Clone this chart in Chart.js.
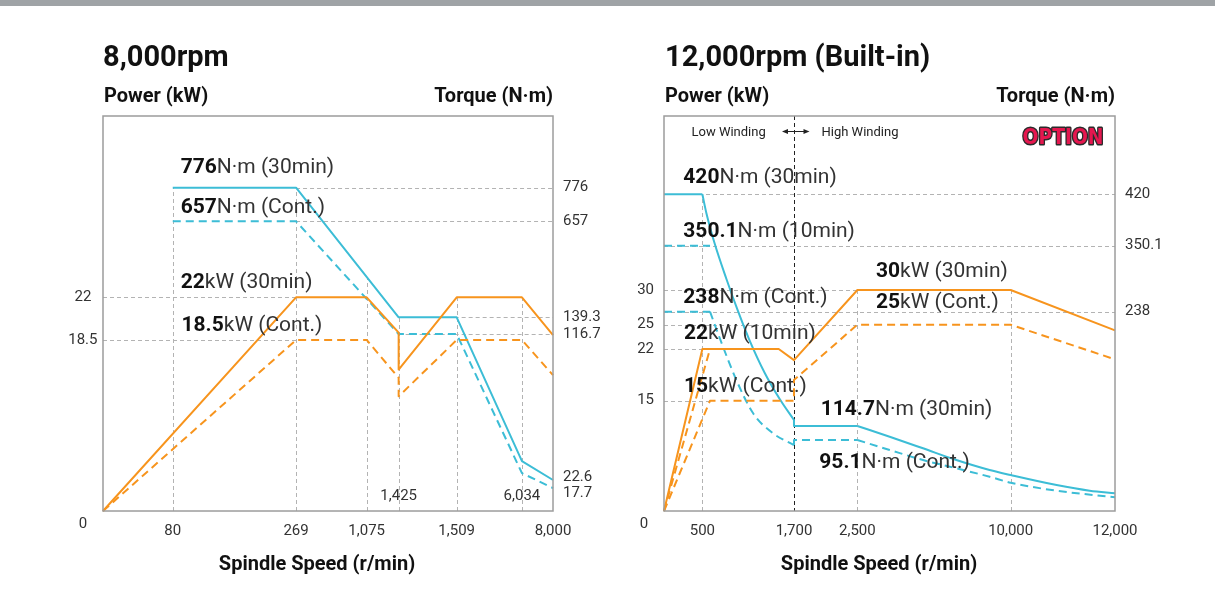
<!DOCTYPE html>
<html>
<head>
<meta charset="utf-8">
<title>Spindle Power / Torque</title>
<script src="https://cdn.jsdelivr.net/npm/chart.js@4.4.1/dist/chart.umd.min.js"></script>
<style>
  html, body { margin: 0; padding: 0; background: #fff; }
  body { width: 1215px; height: 607px; position: relative; overflow: hidden; }
  #topbar { position: absolute; left: 0; top: 0; width: 1215px; height: 6px; background: #9fa3a6; z-index: 2; }
  canvas { position: absolute; top: 0; }
  #c8k { left: 0; }
  #c12k { left: 607px; }
</style>
</head>
<body>
<div id="topbar"></div>
<canvas id="c8k" width="607" height="607"></canvas>
<canvas id="c12k" width="608" height="607"></canvas>
<script>
// ---- 8,000rpm data (speed r/min, power kW, torque N·m) ----
const speedTicks8k = [80, 269, 1075, 1509, 8000];
const speedInnerTicks8k = [1425, 6034];
const powerTicks8k = [18.5, 22];
const torqueTicks8k = [116.7, 139.3, 657, 776];
const torqueEndTicks8k = [22.6, 17.7];

const torque30min8k = [[80, 776], [269, 776], [1425, 139.3], [1509, 139.3], [6034, 34.8], [8000, 22.6]];
const torqueCont8k = [[80, 657], [269, 657], [1425, 116.7], [1509, 116.7], [6034, 27], [8000, 17.7]];
const power30min8k = [[0, 0], [269, 22], [1075, 22], [1425, 19.1], [1425, 15.3], [1509, 22], [6034, 22], [8000, 18.9]];
const powerCont8k = [[0, 0], [269, 18.5], [1075, 18.5], [1425, 14.4], [1425, 12.4], [1509, 18.5], [6034, 18.5], [8000, 14.7]];

// ---- 12,000rpm (Built-in) data ----
const speedTicks12k = [500, 1700, 2500, 10000, 12000];
const powerTicks12k = [15, 22, 25, 30];
const torqueTicks12k = [238, 350.1, 420];
const windingChange = 1700;

const torque30minLowFlat = [[0, 420], [500, 420]];
const torque30minLowCurve = [[500, 420], [552, 394.6], [661, 353], [815, 293.6], [967, 238.8], [1111, 208.5], [1317, 171.9], [1513, 143.8], [1700, 121.2]];
const torque30minStep = [[1700, 121.2], [1700, 114.7], [2500, 114.7]];
const torque30minHighCurve = [[2500, 114.7], [4080, 99.7], [5710, 84], [7340, 68.3], [8970, 54.9], [10000, 48.2], [10880, 34.8], [11515, 27.2], [12000, 23.7]];
const torque10min = [[0, 350.1], [600, 350.1]];
const torqueContLowFlat = [[0, 238], [600, 238]];
const torqueContLowCurve = [[600, 238], [770, 200.2], [945, 164.3], [1165, 128.4], [1425, 104.5], [1700, 88.4]];
const torqueContStep = [[1700, 88.4], [1700, 95.1], [2500, 95.1]];
const torqueContHighCurve = [[2500, 95.1], [4080, 81.7], [5710, 68.3], [7340, 57.2], [8970, 45.9], [10000, 37.9], [10880, 27.2], [12000, 18.4]];
const power30min12k = [[0, 0], [500, 22], [1500, 22], [1700, 20.5], [2500, 30], [10000, 30], [12000, 24.3]];
const power10min12k = [[0, 0], [600, 22]];
const powerCont12k = [[0, 0], [600, 15], [1700, 15], [1700, 17.8], [2500, 25], [10000, 25], [12000, 20.6]];

// axes of the sheet are not linear: value -> fraction of the plot
const axisKnots = {
    speed8k: [[0, 0], [80, 0.155], [269, 0.429], [1075, 0.586], [1425, 0.657], [1509, 0.786], [6034, 0.931], [8000, 1]],
    power8k: [[0, 0], [18.5, 0.433], [22, 0.541], [37, 1]],
    torque8k: [[0, 0], [17.7, 0.058], [22.6, 0.0785], [116.7, 0.448], [139.3, 0.4904], [657, 0.7334], [776, 0.8185], [1030, 1]],
    speed12k: [[0, 0], [500, 0.0851], [1700, 0.2882], [2500, 0.4288], [10000, 0.7687], [12000, 1]],
    power12k: [[0, 0], [15, 0.2792], [22, 0.4101], [25, 0.4716], [30, 0.5595], [55, 1]],
    torque12k: [[0, 0], [95.1, 0.1797], [114.7, 0.2152], [238, 0.5046], [350.1, 0.6716], [420, 0.8018], [527, 1]]
};

const CYAN = '#3cbdd6';
const ORANGE = '#f7941d';
const GRID = '#b3b3b3';
const FONT = 'Roboto';

class PiecewiseScale extends Chart.LinearScale {
    static id = 'piecewise';
    static defaults = Chart.LinearScale.defaults;

    knots() { return axisKnots[this.options.knotKey]; }

    getPixelForValue(value) {
        if (value === null || value === undefined || isNaN(value)) return NaN;
        const k = this.knots();
        let f = k[k.length - 1][1];
        if (value <= k[0][0]) {
            f = k[0][1];
        } else {
            for (let i = 1; i < k.length; i++) {
                if (value <= k[i][0]) {
                    const [v0, f0] = k[i - 1], [v1, f1] = k[i];
                    f = f0 + (value - v0) / (v1 - v0) * (f1 - f0);
                    break;
                }
            }
        }
        return this.getPixelForDecimal(f);
    }

    getValueForPixel(pixel) {
        const d = this.getDecimalForPixel(pixel);
        const k = this.knots();
        for (let i = 1; i < k.length; i++) {
            if (d <= k[i][1]) {
                const [v0, f0] = k[i - 1], [v1, f1] = k[i];
                return v0 + (d - f0) / (f1 - f0) * (v1 - v0);
            }
        }
        return k[k.length - 1][0];
    }
}
Chart.register(PiecewiseScale);

const fmt = v => v.toLocaleString('en-US');

function axis(key, pos, ticks, size, pad, crossAlign) {
    const k = axisKnots[key];
    return {
        type: 'piecewise',
        knotKey: key,
        position: pos,
        min: 0,
        max: k[k.length - 1][0],
        grid: { display: false, drawTicks: false },
        border: { display: false },
        ticks: {
            autoSkip: false, maxRotation: 0, padding: pad, crossAlign: crossAlign || 'near',
            color: '#333', font: { family: FONT, size: 15 },
            callback: v => fmt(v)
        },
        afterBuildTicks: s => { s.ticks = ticks.map(v => ({ value: v })); },
        afterFit: s => { if (pos === 'bottom') s.height = size; else s.width = size; }
    };
}

function line(points, color, yAxis, dashed, curved) {
    return {
        data: points.map(([x, y]) => ({ x, y })),
        yAxisID: yAxis,
        borderColor: color,
        borderWidth: 2,
        borderDash: dashed ? [8, 5] : [],
        borderJoinStyle: 'round',
        pointRadius: 0,
        fill: false,
        clip: false,
        tension: 0,
        cubicInterpolationMode: curved ? 'monotone' : 'default'
    };
}

function rich(ctx, x, y, bold, rest) {
    ctx.textAlign = 'left';
    ctx.textBaseline = 'alphabetic';
    ctx.font = `bold 21px ${FONT}`;
    ctx.fillStyle = '#111';
    ctx.fillText(bold, x, y);
    const w = ctx.measureText(bold).width;
    ctx.font = `21px ${FONT}`;
    ctx.fillStyle = '#333';
    ctx.fillText(rest, x + w, y);
}

function label(ctx, str, x, y, font, color, align, baseline) {
    ctx.font = font;
    ctx.fillStyle = color;
    ctx.textAlign = align || 'left';
    ctx.textBaseline = baseline || 'alphabetic';
    ctx.fillText(str, x, y);
}

function sheet(spec) {
    const ox = spec.offsetX;
    return {
        id: 'sheet',
        beforeDatasetsDraw(chart) {
            const { ctx, chartArea: a, scales } = chart;
            const sx = scales.x;
            ctx.save();
            ctx.strokeStyle = GRID;
            ctx.lineWidth = 1;
            ctx.setLineDash([4, 3]);
            spec.hGrid.forEach(([ax, v, from, to]) => {
                const py = Math.round(scales[ax].getPixelForValue(v)) + 0.5;
                ctx.beginPath();
                ctx.moveTo(sx.getPixelForValue(from), py);
                ctx.lineTo(sx.getPixelForValue(to), py);
                ctx.stroke();
            });
            spec.vGrid.forEach(([v, ax, top]) => {
                const px = Math.round(sx.getPixelForValue(v)) + 0.5;
                ctx.beginPath();
                ctx.moveTo(px, a.bottom);
                ctx.lineTo(px, scales[ax].getPixelForValue(top));
                ctx.stroke();
            });
            if (spec.divider) {
                const px = Math.round(sx.getPixelForValue(spec.divider)) + 0.5;
                ctx.strokeStyle = '#222';
                ctx.beginPath();
                ctx.moveTo(px, a.top);
                ctx.lineTo(px, a.bottom);
                ctx.stroke();
            }
            ctx.restore();
        },
        afterDatasetsDraw(chart) {
            const { ctx, chartArea: a, scales } = chart;
            ctx.save();
            ctx.setLineDash([]);
            ctx.strokeStyle = '#9c9c9c';
            ctx.lineWidth = 1.5;
            ctx.strokeRect(a.left, a.top, a.width, a.height);

            // titles
            label(ctx, spec.title, spec.titleX - ox, 66, `bold 29px ${FONT}`, '#111');
            label(ctx, 'Power (kW)', a.left + 1, 102, `bold 20px ${FONT}`, '#111');
            label(ctx, 'Torque (N·m)', a.right, 102, `bold 20px ${FONT}`, '#111', 'right');
            label(ctx, 'Spindle Speed (r/min)', spec.xTitleX - ox, 570, `bold 20px ${FONT}`, '#111', 'center');

            // corner zero and extra tick labels
            const tickFont = `15px ${FONT}`;
            label(ctx, '0', a.left - 20, 524, tickFont, '#333', 'center', 'middle');
            (spec.innerTicks || []).forEach(v => {
                label(ctx, fmt(v), scales.x.getPixelForValue(v), 496, tickFont, '#333', 'center', 'middle');
            });
            (spec.endTicks || []).forEach(([v, dy]) => {
                label(ctx, fmt(v), a.right + 10, scales.y2.getPixelForValue(v) + dy, tickFont, '#333', 'left', 'middle');
            });

            spec.notes.forEach(([x, y, b, r]) => rich(ctx, x - ox, y, b, r));

            if (spec.winding) {
                const y = 131.5;
                label(ctx, 'Low Winding', 691.5 - ox, 136, `13px ${FONT}`, '#222');
                label(ctx, 'High Winding', 821.5 - ox, 136, `13px ${FONT}`, '#222');
                const x0 = 782 - ox, x1 = 809.5 - ox;
                ctx.strokeStyle = '#222';
                ctx.fillStyle = '#222';
                ctx.lineWidth = 1;
                ctx.beginPath();
                ctx.moveTo(x0 + 2, y);
                ctx.lineTo(x1 - 2, y);
                ctx.stroke();
                [[x0, 1], [x1, -1]].forEach(([x, d]) => {
                    ctx.beginPath();
                    ctx.moveTo(x, y);
                    ctx.lineTo(x + 6 * d, y - 2.5);
                    ctx.lineTo(x + 6 * d, y + 2.5);
                    ctx.closePath();
                    ctx.fill();
                });

                // option badge
                ctx.font = 'bold 22px "DejaVu Sans"';
                ctx.textAlign = 'left';
                ctx.textBaseline = 'alphabetic';
                const w = ctx.measureText('OPTION').width;
                ctx.save();
                ctx.translate(1022.5 - ox, 143.5);
                ctx.scale(81 / w, 1);
                ctx.lineJoin = 'round';
                ctx.lineWidth = 3;
                ctx.strokeStyle = '#2b2b2b';
                ctx.strokeText('OPTION', 0, 0);
                ctx.fillStyle = '#e5174f';
                ctx.fillText('OPTION', 0, 0);
                ctx.restore();
            }
            ctx.restore();
        }
    };
}

function makeChart(id, spec) {
    return new Chart(document.getElementById(id), {
        type: 'line',
        data: { datasets: spec.datasets },
        options: {
            responsive: false,
            animation: false,
            devicePixelRatio: 1,
            events: [],
            layout: { padding: { top: 116, left: 0, right: 0, bottom: 0 } },
            plugins: { legend: { display: false }, tooltip: { enabled: false } },
            scales: spec.scales
        },
        plugins: [sheet(spec)]
    });
}

// ---- left: 8,000rpm ----
makeChart('c8k', {
    offsetX: 0,
    title: '8,000rpm',
    titleX: 103,
    xTitleX: 317,
    scales: {
        x: axis('speed8k', 'bottom', speedTicks8k, 96, 11),
        y: axis('power8k', 'left', powerTicks8k, 103, 5.5, 'center'),
        y2: axis('torque8k', 'right', torqueTicks8k, 54, 10)
    },
    datasets: [
        line(power30min8k, ORANGE, 'y', false),
        line(powerCont8k, ORANGE, 'y', true),
        line(torque30min8k, CYAN, 'y2', false),
        line(torqueCont8k, CYAN, 'y2', true)
    ],
    hGrid: [['y', 22, 0, 269], ['y', 18.5, 0, 269], ['y2', 776, 269, 8000], ['y2', 657, 269, 8000],
            ['y2', 139.3, 1425, 8000], ['y2', 116.7, 1425, 8000]],
    vGrid: [[80, 'y2', 776], [269, 'y2', 776], [1075, 'y2', 355], [1425, 'y2', 139.3], [1509, 'y', 22], [6034, 'y', 22]],
    innerTicks: speedInnerTicks8k,
    endTicks: [[torqueEndTicks8k[0], -3], [torqueEndTicks8k[1], 5.5]],
    notes: [
        [180.7, 172.7, '776', 'N·m (30min)'],
        [180.7, 213.3, '657', 'N·m (Cont.)'],
        [180.7, 288.3, '22', 'kW (30min)'],
        [181.5, 331, '18.5', 'kW (Cont.)']
    ]
});

// ---- right: 12,000rpm (Built-in) ----
makeChart('c12k', {
    offsetX: 607,
    title: '12,000rpm (Built-in)',
    titleX: 665,
    xTitleX: 879,
    winding: true,
    divider: windingChange,
    scales: {
        x: axis('speed12k', 'bottom', speedTicks12k, 96, 11),
        y: axis('power12k', 'left', powerTicks12k, 57, 10, 'center'),
        y2: axis('torque12k', 'right', torqueTicks12k, 100, 10)
    },
    datasets: [
        line(power30min12k, ORANGE, 'y', false),
        line(power10min12k, ORANGE, 'y', true),
        line(powerCont12k, ORANGE, 'y', true),
        line(torque30minLowFlat, CYAN, 'y2', false),
        line(torque30minLowCurve, CYAN, 'y2', false, true),
        line(torque30minStep, CYAN, 'y2', false),
        line(torque30minHighCurve, CYAN, 'y2', false, true),
        line(torque10min, CYAN, 'y2', true),
        line(torqueContLowFlat, CYAN, 'y2', true),
        line(torqueContLowCurve, CYAN, 'y2', true, true),
        line(torqueContStep, CYAN, 'y2', true),
        line(torqueContHighCurve, CYAN, 'y2', true, true)
    ],
    hGrid: [['y', 30, 0, 2500], ['y', 25, 0, 2500], ['y', 22, 0, 1500], ['y', 15, 0, 600],
            ['y2', 420, 0, 12000], ['y2', 350.1, 0, 12000], ['y2', 238, 0, 12000]],
    vGrid: [[500, 'y2', 420], [2500, 'y', 30], [10000, 'y', 30]],
    notes: [
        [683.3, 183.3, '420', 'N·m (30min)'],
        [683.3, 236.7, '350.1', 'N·m (10min)'],
        [683.3, 303.3, '238', 'N·m (Cont.)'],
        [684, 339.3, '22', 'kW (10min)'],
        [684, 391.7, '15', 'kW (Cont.)'],
        [876, 276.7, '30', 'kW (30min)'],
        [876, 308.3, '25', 'kW (Cont.)'],
        [820.7, 415, '114.7', 'N·m (30min)'],
        [819.3, 468.3, '95.1', 'N·m (Cont.)']
    ]
});
</script>
</body>
</html>
